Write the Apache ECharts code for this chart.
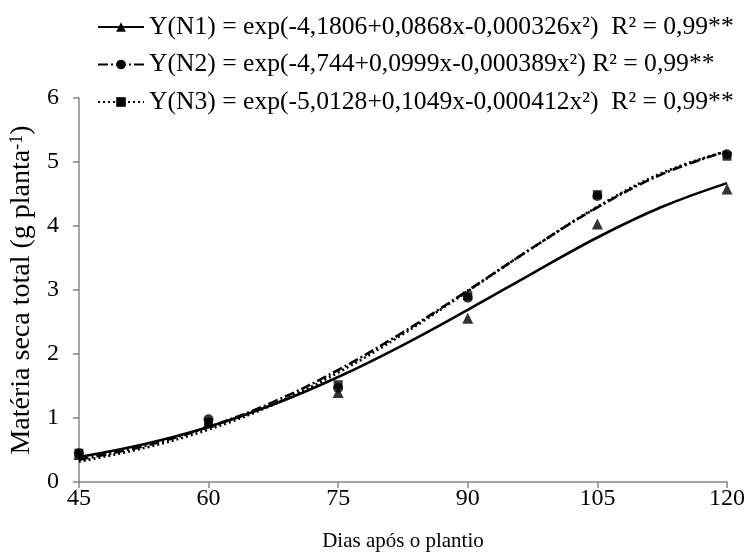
<!DOCTYPE html>
<html>
<head>
<meta charset="utf-8">
<script src="https://cdn.jsdelivr.net/npm/echarts@6/dist/echarts.min.js"></script>
<style>
  html, body { margin: 0; padding: 0; background: #fff; }
  #main { width: 749px; height: 557px; }
</style>
</head>
<body>
<div id="main"></div>
<script>
// observed days and means
var dias = [45, 60, 75, 90, 105, 120];
var obsN1 = [0.43, 0.93, 1.40, 2.56, 4.03, 4.58];
var obsN2 = [0.45, 0.98, 1.47, 2.88, 4.47, 5.12];
var obsN3 = [0.45, 0.93, 1.52, 2.91, 4.49, 5.09];

// fitted curves, every 7.5 days
var diasCurva = [45, 52.5, 60, 67.5, 75, 82.5, 90, 97.5, 105, 112.5, 120];
var fitN1 = [0.39, 0.59, 0.86, 1.21, 1.64, 2.14, 2.69, 3.26, 3.82, 4.30, 4.67];
var fitN2 = [0.35, 0.56, 0.86, 1.25, 1.75, 2.34, 2.99, 3.66, 4.29, 4.81, 5.17];
var fitN3 = [0.32, 0.53, 0.82, 1.21, 1.71, 2.31, 2.98, 3.66, 4.30, 4.83, 5.17];

var nomes = [
  'Y(N1) = exp(-4,1806+0,0868x-0,000326x²)  R² = 0,99**',
  'Y(N2) = exp(-4,744+0,0999x-0,000389x²) R² = 0,99**',
  'Y(N3) = exp(-5,0128+0,1049x-0,000412x²)  R² = 0,99**'
];
var simbolos = ['triangle', 'circle', 'rect'];
var tamanhos = [11, 10, 9];
var tracos = ['solid', [10, 3, 2, 3], [2, 3]];

function pares(xs, ys) {
  return xs.map(function (x, i) { return [x, ys[i]]; });
}

var fits = [fitN1, fitN2, fitN3];
var obs = [obsN1, obsN2, obsN3];
var series = [];
for (var i = 0; i < 3; i++) {
  series.push({
    name: nomes[i],
    type: 'line',
    smooth: 0.4,
    data: pares(diasCurva, fits[i]),
    symbol: simbolos[i],
    symbolSize: tamanhos[i],
    showSymbol: false,
    itemStyle: { color: '#000' },
    lineStyle: { color: '#000', width: 2.6, type: tracos[i] },
    silent: true,
    z: 2
  });
}
for (var j = 0; j < 3; j++) {
  series.push({
    name: 'obs' + (j + 1),
    type: 'scatter',
    data: pares(dias, obs[j]),
    symbol: simbolos[j],
    symbolSize: tamanhos[j],
    itemStyle: { color: '#000' },
    z: 3
  });
}

var fonte = '"Liberation Serif", "Times New Roman", serif';
var cinza = { color: '#868686', width: 1.5 };

var myChart = echarts.init(document.getElementById('main'));
var option = {
  animation: false,
  backgroundColor: '#fff',
  textStyle: { fontFamily: fonte, color: '#000' },
  grid: { left: 78, right: 22, top: 98, bottom: 75 },
  legend: {
    data: nomes,
    orient: 'vertical',
    left: 92,
    top: 9,
    itemWidth: 46,
    itemHeight: 12,
    itemGap: 11.5,
    textStyle: { fontFamily: fonte, fontSize: 25.6, color: '#000' }
  },
  xAxis: {
    type: 'value',
    min: 45,
    max: 120,
    interval: 15,
    name: 'Dias após o plantio',
    nameLocation: 'middle',
    nameGap: 49,
    nameTextStyle: { fontFamily: fonte, fontSize: 21, color: '#000' },
    axisLine: { lineStyle: cinza },
    axisTick: { show: true, length: 6, lineStyle: cinza },
    axisLabel: { fontFamily: fonte, fontSize: 24, color: '#000', margin: 5 },
    splitLine: { show: false }
  },
  yAxis: {
    type: 'value',
    min: 0,
    max: 6,
    interval: 1,
    name: 'Matéria seca total (g planta{sup|-1})',
    nameLocation: 'middle',
    nameGap: 41,
    nameTextStyle: {
      fontFamily: fonte, fontSize: 28, color: '#000',
      rich: {
        sup: { fontFamily: fonte, fontSize: 18, color: '#000', verticalAlign: 'top', padding: [0, 0, 10, 0] }
      }
    },
    axisLine: { show: true, lineStyle: cinza },
    axisTick: { show: true, length: 6, lineStyle: cinza },
    axisLabel: { fontFamily: fonte, fontSize: 24, color: '#000', margin: 20 },
    splitLine: { show: false }
  },
  series: series
};
myChart.setOption(option);
</script>
</body>
</html>
